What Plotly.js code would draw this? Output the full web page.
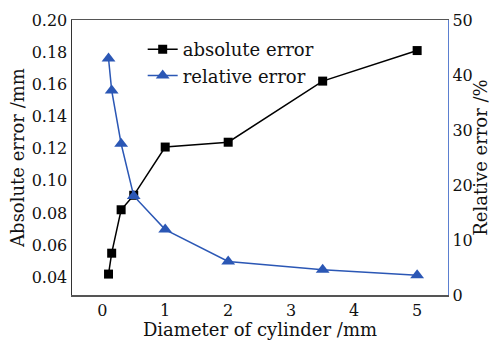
<!DOCTYPE html>
<html>
<head>
<meta charset="utf-8">
<script src="https://cdn.plot.ly/plotly-3.0.1.min.js"></script>
<style>html,body{margin:0;padding:0;background:#fff;}#chart{width:491px;height:340px;}</style>
</head>
<body>
<div id="chart"></div>
<script>
const diameter = [0.1, 0.15, 0.3, 0.5, 1, 2, 3.5, 5];
const absoluteError = [0.042, 0.055, 0.082, 0.091, 0.121, 0.124, 0.162, 0.181];
const relativeError = [43.0, 37.2, 27.5, 18.0, 11.9, 6.1, 4.6, 3.6];
const xTicks = [0, 1, 2, 3, 4, 5];

const serif = "DejaVu Serif";
const blue = "#2b57b5";
const ink = "#111";

const traces = [
  {x: diameter, y: absoluteError, name: "absolute error", type: "scatter", mode: "lines+markers",
   line: {color: "#000", width: 1.5}, marker: {symbol: "square", size: 9, color: "#000"}, yaxis: "y"},
  {x: diameter, y: relativeError, name: "relative error", type: "scatter", mode: "lines+markers",
   line: {color: blue, width: 1.5}, marker: {symbol: "triangle-up", size: 12, color: blue}, yaxis: "y2"}
];

const layout = {
  width: 491, height: 340,
  margin: {l: 72, r: 43, t: 20, b: 45},
  paper_bgcolor: "#fff", plot_bgcolor: "#fff",
  font: {family: serif, size: 16, color: ink},
  showlegend: true,
  legend: {x: 0.188, y: 0.96, xanchor: "left", yanchor: "top", bgcolor: "rgba(0,0,0,0)",
           font: {family: serif, size: 18, color: ink}, tracegroupgap: 0, itemwidth: 30},
  xaxis: {range: [-0.48, 5.49], tickvals: xTicks, ticks: "", showgrid: false, zeroline: false,
          showline: true, linecolor: "#555", linewidth: 1.5, mirror: true,
          tickfont: {family: serif, size: 16, color: ink},
          title: {text: "Diameter of cylinder /mm", font: {family: serif, size: 18, color: ink}, standoff: 2}},
  yaxis: {range: [0.029, 0.20], dtick: 0.02, tickformat: ".2f", ticks: "", showgrid: false, zeroline: false,
          showline: true, linecolor: "#333", linewidth: 1.5,
          tickfont: {family: serif, size: 16, color: ink},
          title: {text: "Absolute error /mm", font: {family: serif, size: 18, color: ink}, standoff: 2}},
  yaxis2: {range: [0, 50], dtick: 10, overlaying: "y", side: "right", ticks: "", showgrid: false, zeroline: false,
           showline: true, linecolor: "#5b7fd0", linewidth: 1.2,
           tickfont: {family: serif, size: 16, color: ink},
           title: {text: "Relative error /%", font: {family: serif, size: 18, color: ink}, standoff: 4}}
};

Plotly.newPlot("chart", traces, layout, {staticPlot: true, displayModeBar: false});
</script>
</body>
</html>
